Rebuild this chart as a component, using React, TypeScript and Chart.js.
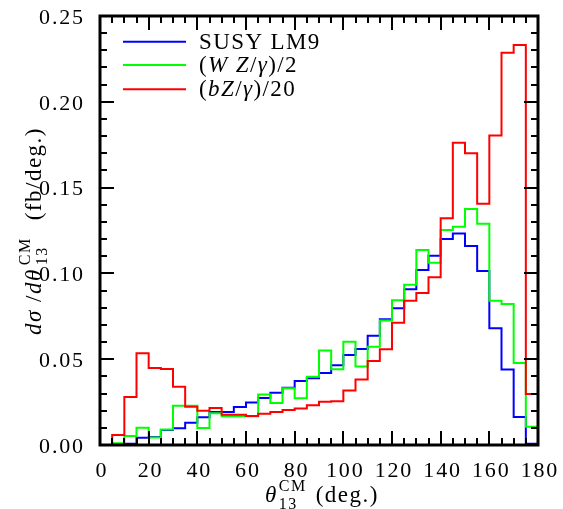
import React, { useEffect, useRef } from 'react';
import { Chart, registerables } from 'chart.js';

Chart.register(...registerables);

// Lower edges of the 5-degree bins, plus the upper edge of the last bin.
const binEdges = [
  0, 5, 10, 15, 20, 25, 30, 35, 40, 45, 50, 55, 60, 65, 70, 75, 80, 85, 90,
  95, 100, 105, 110, 115, 120, 125, 130, 135, 140, 145, 150, 155, 160, 165,
  170, 175, 180,
];

// dσ/dθ13 per bin (fb/deg.)
const susyLM9 = [
  0, 0, 0.0007, 0.0042, 0.0047, 0.0087, 0.0097, 0.013, 0.0161, 0.0193,
  0.0193, 0.0222, 0.0247, 0.0274, 0.0305, 0.0334, 0.0373, 0.0389, 0.042,
  0.0465, 0.0525, 0.0559, 0.0637, 0.0733, 0.0797, 0.0907, 0.102, 0.1103,
  0.12, 0.1233, 0.116, 0.1014, 0.068, 0.044, 0.0163, 0.0008,
];

const wzOver2 = [
  0, 0.001, 0.0053, 0.0101, 0.0043, 0.0091, 0.0229, 0.0229, 0.0099, 0.0185,
  0.0167, 0.0167, 0.0167, 0.0295, 0.0245, 0.033, 0.0272, 0.0398, 0.055,
  0.0442, 0.0602, 0.0458, 0.0573, 0.0726, 0.0843, 0.0934, 0.1136, 0.1062,
  0.1253, 0.1272, 0.1375, 0.129, 0.084, 0.0822, 0.0478, 0.0107,
];

const bzOver20 = [
  0, 0.0058, 0.028, 0.0534, 0.0449, 0.0443, 0.034, 0.0223, 0.02, 0.0215,
  0.0177, 0.0177, 0.0169, 0.0182, 0.0192, 0.0204, 0.0213, 0.0231, 0.0252,
  0.0255, 0.0318, 0.0381, 0.049, 0.0558, 0.0713, 0.084, 0.0886, 0.0977,
  0.1321, 0.1762, 0.17, 0.1406, 0.1804, 0.2286, 0.2331, 0.0297,
];

const xTickValues = [0, 20, 40, 60, 80, 100, 120, 140, 160, 180];
const xTickLabels = ['0', '20', '40', '60', '80', '100', '120', '140', '160', '180'];
const yTickValues = [0, 0.05, 0.1, 0.15, 0.2, 0.25];
const yTickLabels = ['0.00', '0.05', '0.10', '0.15', '0.20', '0.25'];

const FONT = "'Liberation Serif', 'Times New Roman', serif";

type Seg = { t: string; it?: boolean; sz?: number; dy?: number };

function drawRich(
  ctx: CanvasRenderingContext2D,
  segs: Seg[],
  x: number,
  y: number,
  base: number,
  spacing: number
): number {
  let cx = x;
  for (const s of segs) {
    const sz = s.sz ?? base;
    ctx.font = `${s.it ? 'italic ' : ''}${sz}px ${FONT}`;
    for (const ch of s.t) {
      ctx.fillText(ch, cx, y + (s.dy ?? 0));
      cx += ctx.measureText(ch).width + spacing;
    }
  }
  return cx;
}

function richWidth(ctx: CanvasRenderingContext2D, segs: Seg[], base: number, spacing: number): number {
  let w = 0;
  let n = 0;
  for (const s of segs) {
    const sz = s.sz ?? base;
    ctx.font = `${s.it ? 'italic ' : ''}${sz}px ${FONT}`;
    for (const ch of s.t) {
      w += ctx.measureText(ch).width;
      n++;
    }
  }
  return w + spacing * Math.max(0, n - 1);
}

const histPoints = (vals: number[]) =>
  binEdges.map((x, i) => ({ x, y: vals[Math.min(i, vals.length - 1)] }));

const series = [
  { label: 'SUSY LM9', data: susyLM9, color: '#0000ff', legend: [{ t: 'SUSY LM9' }] as Seg[] },
  {
    label: '(WZ/γ)/2',
    data: wzOver2,
    color: '#00ff00',
    legend: [{ t: '(' }, { t: 'W Z', it: true }, { t: '/' }, { t: 'γ', it: true }, { t: ')/2' }] as Seg[],
  },
  {
    label: '(bZ/γ)/20',
    data: bzOver20,
    color: '#ff0000',
    legend: [{ t: '(' }, { t: 'bZ', it: true }, { t: '/' }, { t: 'γ', it: true }, { t: ')/20' }] as Seg[],
  },
];

const framePlugin = {
  id: 'frameAndLabels',
  afterDraw(chart: any) {
    const { ctx, chartArea } = chart;
    const xs = chart.scales.x;
    const ys = chart.scales.y;
    const { left, right, top, bottom } = chartArea;
    ctx.save();
    ctx.fillStyle = '#000';
    ctx.strokeStyle = '#000';

    // ticks pointing inward on all four sides
    ctx.lineWidth = 2;
    ctx.beginPath();
    for (let v = 0; v <= 180; v += 5) {
      const px = Math.round(xs.getPixelForValue(v));
      const len = v % 20 === 0 ? 14 : 7;
      ctx.moveTo(px, bottom);
      ctx.lineTo(px, bottom - len);
      ctx.moveTo(px, top);
      ctx.lineTo(px, top + len);
    }
    for (let k = 0; k <= 25; k++) {
      const py = Math.round(ys.getPixelForValue(k / 100));
      const len = k % 5 === 0 ? 14 : 7;
      ctx.moveTo(left, py);
      ctx.lineTo(left + len, py);
      ctx.moveTo(right, py);
      ctx.lineTo(right - len, py);
    }
    ctx.stroke();

    // frame
    ctx.lineWidth = 3;
    ctx.strokeRect(left, top, right - left, bottom - top);

    // tick labels
    const ts = 22;
    const sp = 1.8;
    ctx.textBaseline = 'middle';
    ctx.textAlign = 'left';
    yTickValues.forEach((v, i) => {
      const segs = [{ t: yTickLabels[i] }];
      const w = richWidth(ctx, segs, ts, sp);
      drawRich(ctx, segs, 83 - w, ys.getPixelForValue(v) + 2, ts, sp);
    });
    xTickValues.forEach((v, i) => {
      const segs = [{ t: xTickLabels[i] }];
      const w = richWidth(ctx, segs, ts, sp);
      drawRich(ctx, segs, xs.getPixelForValue(v) + 1 - w / 2, 471, ts, sp);
    });

    // x-axis title
    ctx.textBaseline = 'alphabetic';
    let cx = drawRich(ctx, [{ t: 'θ', it: true }], 265, 502, 23, 1.5);
    const e1 = drawRich(ctx, [{ t: 'CM', sz: 16 }], cx + 1, 491, 16, 1.5);
    const e2 = drawRich(ctx, [{ t: '13', sz: 16 }], cx + 1, 509, 16, 1.5);
    drawRich(ctx, [{ t: '(deg.)' }], Math.max(e1, e2) + 9, 502, 23, 1.5);

    // y-axis title, rotated to read bottom-to-top
    ctx.translate(41, 335);
    ctx.rotate(-Math.PI / 2);
    cx = drawRich(ctx, [{ t: 'dσ', it: true }, { t: ' /' }, { t: 'dθ', it: true }], 0, 0, 23, 1.5);
    const f1 = drawRich(ctx, [{ t: 'CM', sz: 16 }], cx + 3, -11, 16, 1.5);
    const f2 = drawRich(ctx, [{ t: '13', sz: 16 }], cx + 3, 6, 16, 1.5);
    drawRich(ctx, [{ t: '(fb/deg.)' }], Math.max(f1, f2) + 17, 0, 23, 1.5);
    ctx.setTransform(1, 0, 0, 1, 0, 0);

    // legend
    const legendY = [41.7, 65, 89.3];
    ctx.textBaseline = 'middle';
    series.forEach((s, i) => {
      ctx.strokeStyle = s.color;
      ctx.lineWidth = 2;
      ctx.beginPath();
      ctx.moveTo(123, legendY[i]);
      ctx.lineTo(186, legendY[i]);
      ctx.stroke();
      ctx.fillStyle = '#000';
      drawRich(ctx, s.legend, 199, legendY[i] + 1, 23, 1.4);
    });
    ctx.restore();
  },
};

export default function App() {
  const ref = useRef<HTMLCanvasElement | null>(null);

  useEffect(() => {
    if (!ref.current) return;
    const chart = new Chart(ref.current, {
      type: 'line',
      data: {
        datasets: series.map((s, i) => ({
          label: s.label,
          data: histPoints(s.data),
          borderColor: s.color,
          backgroundColor: s.color,
          borderWidth: 2,
          stepped: 'before' as const,
          pointRadius: 0,
          fill: false,
          order: series.length - i,
        })),
      },
      options: {
        animation: false,
        responsive: false,
        devicePixelRatio: 1,
        events: [],
        layout: { padding: { left: 100, right: 25, top: 16, bottom: 64 } },
        scales: {
          x: { type: 'linear', min: 0, max: 180, display: false },
          y: { type: 'linear', min: 0, max: 0.25, display: false },
        },
        plugins: { legend: { display: false }, tooltip: { enabled: false } },
      },
      plugins: [framePlugin],
    });
    return () => chart.destroy();
  }, []);

  return (
    <div style={{ position: 'absolute', left: 0, top: 0, width: 563, height: 509, background: '#fff' }}>
      <canvas ref={ref} width={563} height={509} />
    </div>
  );
}
